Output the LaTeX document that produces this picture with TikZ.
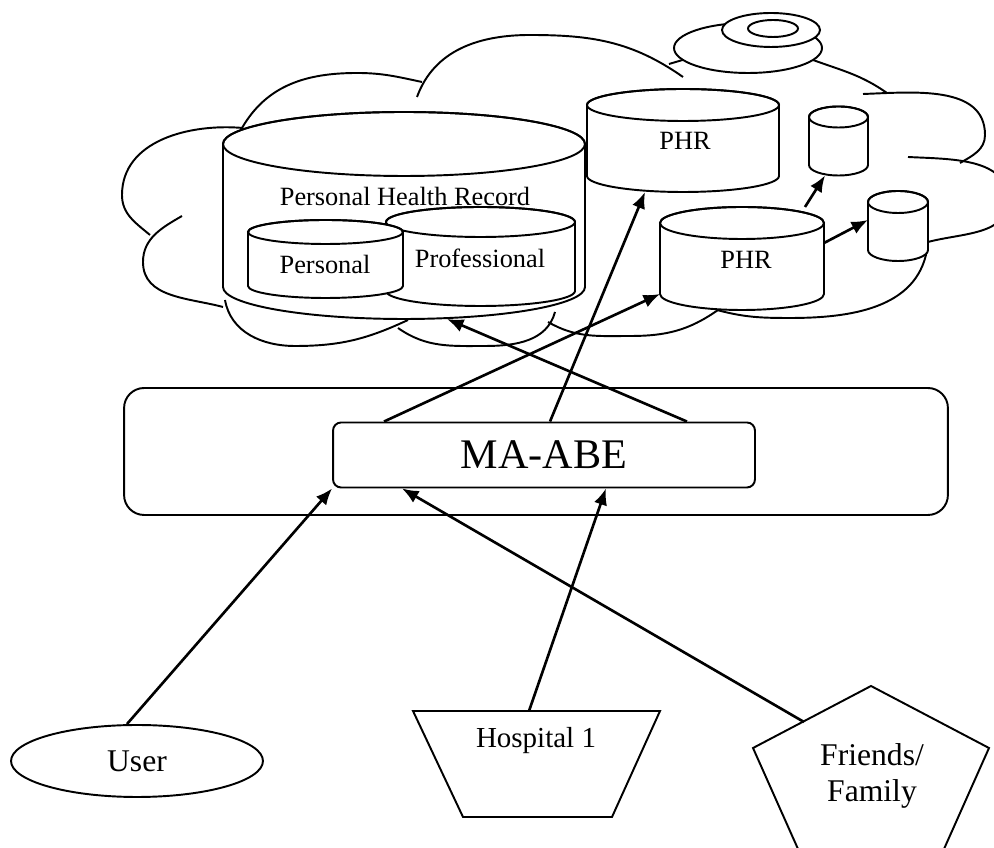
\documentclass[tikz,border=0pt]{standalone}
\usepackage{fontspec}
\setmainfont{Liberation Serif}
\usetikzlibrary{arrows.meta,shapes.geometric}

% drum: name, centre x, top y, bottom y, x radius, y radius
\newcommand{\drum}[6]{%
  \filldraw[fill=white] (#2-#5,#3) -- (#2-#5,#4)
    arc[start angle=180,end angle=360,x radius=#5,y radius=#6]
    -- (#2+#5,#3)
    arc[start angle=0,end angle=180,x radius=#5,y radius=#6] -- cycle;
  \draw (#2,#3) ellipse[x radius=#5,y radius=#6];
  \coordinate (#1-b) at (#2,#4-#6);
  \coordinate (#1-t) at (#2,#3+#6);
  \coordinate (#1-bl) at (#2-#5,#4);
  \coordinate (#1-br) at (#2+#5,#4);
}

\begin{document}
\begin{tikzpicture}[
  x=0.02cm,y=0.02cm,
  line width=1.1pt,
  lbl/.style={font=\fontsize{15}{18}\selectfont},
  big/.style={font=\fontsize{18}{20}\selectfont,align=center},
  box/.style={draw,rounded corners=0.16cm,minimum width=8.44cm,minimum height=1.3cm,font=\fontsize{24}{28}\selectfont},
  frame/.style={draw,rounded corners=0.4cm,minimum width=16.48cm,minimum height=2.54cm},
  arrow/.style={-{Latex[length=0.33cm,width=0.27cm]},line width=1.5pt}
]
\useasboundingbox (0,0) rectangle (994,848);
\clip (0,0) rectangle (994,848);

% cloud
\draw (243,720) to[out=175,in=90] (122,653) to[out=-90,in=140] (150,613);
\draw (182,632) to[out=210,in=90] (143,586) to[out=-90,in=165] (223,541);
\draw (225,548) to[out=-80,in=180] (295,502) to[out=0,in=205] (408,528);
\draw (398,520) to[out=-35,in=180] (485,502) to[out=0,in=-105] (555,536);
\draw (548,526) to[out=-30,in=180] (630,512) to[out=0,in=215] (718,538);
\draw (717,538) to[out=-15,in=180] (790,530) to[out=0,in=-100] (927,598);
\draw (908,691) to[out=-3,in=90] (1008,648) to[out=-90,in=15] (928,606);
\draw (863,754) to[out=2,in=90] (985,713) to[out=-90,in=30] (960,685);
\draw (813,788) to[out=-20,in=145] (887,755);
\draw (417,751) to[out=70,in=180] (530,813) to[out=0,in=145] (683,771);
\draw (242,720) to[out=60,in=180] (357,775) to[out=0,in=168] (422,766);
\draw (669,784) -- (686,789);
\filldraw[fill=white] (748,800) ellipse[x radius=74,y radius=25];
\filldraw[fill=white] (771,818) ellipse[x radius=49,y radius=17];
\draw (773,819.5) ellipse[x radius=25,y radius=8.5];

% stores
\drum{phr}{404}{704}{561}{181}{32}
\drum{prof}{480.5}{626}{557}{94.5}{15}
\drum{pers}{325.5}{616}{562}{77.5}{12}
\drum{phrtop}{683}{743}{672}{96}{16}
\drum{phrlow}{742}{625}{554}{82}{16}
\drum{dbone}{838.5}{731}{683}{29.5}{10.5}
\drum{dbtwo}{898}{646}{598}{30}{11}
\node[lbl] (phrname) at (405,652) {Personal Health Record};
\node[lbl] (persname) at (325,584) {Personal};
\node[lbl] (profname) at (480,590) {Professional};
\node[lbl] (phrtopname) at (685,707) {PHR};
\node[lbl] (phrlowname) at (746,588) {PHR};

% MA-ABE
\node[frame] (frame) at (536,396.5) {};
\node[box] (maabe) at (544,393) {MA-ABE};

% parties
\node[draw,ellipse,minimum width=5.04cm,minimum height=1.44cm,big] (user) at (137,87) {User};
\draw (413,137) -- (660,137) -- (612,31) -- (463,31) -- cycle;
\coordinate (hport) at (529,137);
\node[big,font=\fontsize{16.5}{20}\selectfont] (hosp) at (536,107) {Hospital 1};
\draw (871,162) -- (989,100) -- (944,-1) -- (798,-1) -- (753,100) -- cycle;
\coordinate (fport) at (804,126);
\node[big] (friends) at (872,72) {Friends/\\Family};

% links
\draw[arrow] ([xshift=-3.2cm]maabe.north) -- (phrlow-bl);
\draw[arrow] ([xshift=0.12cm]maabe.north) -- ([xshift=-0.76cm]phrtop-b);
\draw[arrow] ([xshift=2.86cm]maabe.north) -- ([xshift=0.86cm]phr-b);
\draw[arrow] ([xshift=1.26cm]phrlow-t) -- ([xshift=-0.27cm]dbone-b);
\draw[arrow] ([yshift=1.02cm]phrlow-br) -- ([yshift=0.6cm]dbtwo-bl);
\draw[arrow] ([xshift=-0.2cm]user.north) -- (maabe.south west);
\draw[arrow] (hport) -- ([xshift=1.24cm]maabe.south);
\draw[arrow] (fport) -- ([xshift=-2.84cm]maabe.south);
\end{tikzpicture}
\end{document}
